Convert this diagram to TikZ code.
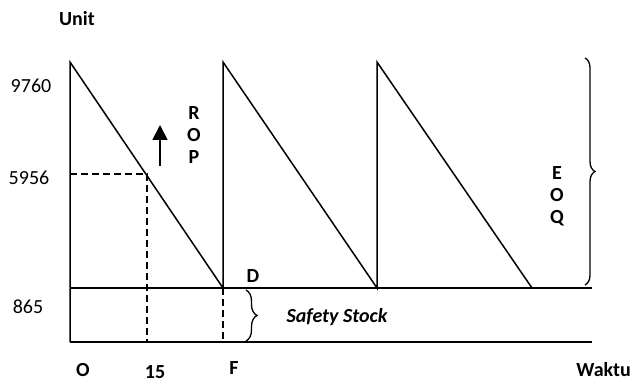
\documentclass[tikz,border=0pt]{standalone}
\usepackage{fontspec}
\setmainfont{Carlito}
\usetikzlibrary{arrows.meta,decorations.pathreplacing}

\begin{document}
\begin{tikzpicture}[x=1pt,y=-1pt,
  lbl/.style={font=\fontsize{20}{22}\selectfont\bfseries, inner sep=0pt, align=center},
  num/.style={font=\fontsize{20}{22}\selectfont, inner sep=0pt},
  stock/.style={line width=1.5pt},
  guide/.style={line width=1.4pt, dash pattern=on 7pt off 4pt},
  brc/.style={line width=1.3pt, decorate, decoration={brace,amplitude=#1}},
  >={Triangle[width=15pt,length=15pt]}
]
\useasboundingbox (0,0) rectangle (631,382);

% corners of the saw-tooth
\coordinate (o) at (70,342);
\coordinate (ss0) at (70,288);
\coordinate (p1) at (70,62);
\coordinate (p2) at (223,62);
\coordinate (p3) at (377,62);
\coordinate (d1) at (223,288);
\coordinate (d2) at (377,288);
\coordinate (d3) at (532,288);
\coordinate (ssend) at (592,288);
\coordinate (xend) at (592,342);
\coordinate (rop) at (147,174);
\coordinate (ropx) at (70,174);
\coordinate (t15) at (147,342);
\coordinate (tF) at (223,342);

\draw[stock] (o) -- (p1) -- (d1) -- (p2) -- (d2) -- (p3) -- (d3);
\draw[stock] (ss0) -- (ssend);
\draw[line width=2.2pt] (o) -- (xend);

% reorder point guides
\draw[guide] (ropx) -- (rop) -- (t15);
\draw[guide] (d1) -- (tF);

\coordinate (a0) at (160,166);
\coordinate (a1) at (160,125);
\draw[->, line width=1.7pt] (a0) -- (a1);

% braces
\draw[brc=10pt] (585,58) -- (585,285);
\draw[brc=11pt] (246,290) -- (246,341);

\node[lbl] (unit) at (77,19) {Unit};
\node[num] (n9760) at (31,86) {9760};
\node[num] (n5956) at (29,178) {5956};
\node[num] (n865) at (28,307) {865};
\node[lbl] (lO) at (83,370) {O};
\node[lbl] (l15) at (155,372) {15};
\node[lbl] (lF) at (234,368) {F};
\node[lbl] (lD) at (253,276) {D};
\node[lbl, anchor=east] (waktu) at (631,370) {Waktu};
\node[lbl] (lrop) at (194,135) {R\\O\\P};
\node[lbl] (leoq) at (557,196) {E\\O\\Q};
\node[lbl, font=\fontsize{20}{22}\selectfont\bfseries\itshape] (safety) at (337,317) {Safety Stock};
\end{tikzpicture}
\end{document}
